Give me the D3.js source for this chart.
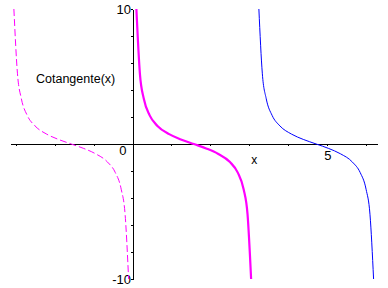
<!DOCTYPE html>
<html>
<head>
<meta charset="utf-8">
<script src="https://cdn.jsdelivr.net/npm/d3@7"></script>
<style>
  body { margin: 0; background: #fff; }
  text { font-family: "Liberation Sans", Arial, sans-serif; fill: #000; }
</style>
</head>
<body>
<div id="chart"></div>
<script>
// values, one array per branch
const leftX  = [-3.042, -2.95, -2.85, -2.7, -2.5, -2.2, -1.9, -1.571, -1.25, -0.95, -0.64, -0.44, -0.29, -0.19, -0.0997];
const midX   = [0.0997, 0.19, 0.29, 0.44, 0.64, 0.94, 1.24, 1.571, 1.89, 2.19, 2.5, 2.7, 2.85, 2.95, 3.042];
const rightX = [3.241, 3.33, 3.43, 3.58, 3.78, 4.08, 4.38, 4.712, 5.03, 5.33, 5.64, 5.84, 5.99, 6.09, 6.183];
const cotY   = [10, 5.2, 3.35, 2.12, 1.34, 0.73, 0.34, 0, -0.33, -0.72, -1.34, -2.12, -3.35, -5.2, -10];

const xTicks = [-3, -2, -1, 0, 1, 2, 3, 4, 5, 6];
const yTicks = [-10, -8, -6, -4, -2, 0, 2, 4, 6, 8, 10];
const xLabels = [5];
const yLabels = [-10, 10];

const width = 388, height = 288;

const svg = d3.select('#chart').append('svg')
  .attr('width', width)
  .attr('height', height);

const x = d3.scaleLinear().domain([-Math.PI, 2 * Math.PI]).range([10, 377.5]);
const y = d3.scaleLinear().domain([-10, 10]).range([279, 9]);

// axes cross at the origin
const xAxis = d3.axisBottom(x)
  .tickValues(xTicks)
  .tickSize(2)
  .tickSizeOuter(0)
  .tickPadding(5)
  .tickFormat(d => xLabels.includes(d) ? d : '');

const yAxis = d3.axisLeft(y)
  .tickValues(yTicks)
  .tickSize(2)
  .tickSizeOuter(0)
  .tickPadding(0)
  .tickFormat(d => yLabels.includes(d) ? d : '');

const gx = svg.append('g')
  .attr('transform', 'translate(0,' + Math.round(y(0)) + ')')
  .call(xAxis);
const gy = svg.append('g')
  .attr('transform', 'translate(' + Math.round(x(0)) + ',0)')
  .call(yAxis);

[gx, gy].forEach(g => {
  g.selectAll('path, line').attr('stroke', '#000').attr('shape-rendering', 'crispEdges');
  g.selectAll('text').attr('font-size', 13).attr('font-family', '"Liberation Sans", Arial, sans-serif').attr('fill', '#000');
});
gy.selectAll('text').attr('dy', '0.36em');

// origin label
svg.append('text')
  .attr('x', x(0) - 6)
  .attr('y', y(0) + 11)
  .attr('text-anchor', 'end')
  .attr('font-size', 13)
  .text('0');

svg.append('text')
  .attr('x', x(3.12))
  .attr('y', y(-1.5))
  .attr('text-anchor', 'middle')
  .attr('font-size', 12)
  .text('x');

svg.append('text')
  .attr('x', 36)
  .attr('y', 83)
  .attr('font-size', 12.5)
  .text('Cotangente(x)');

const line = d3.line()
  .x(d => x(d[0]))
  .y(d => y(d[1]))
  .curve(d3.curveMonotoneX);

const branches = [
  { xs: leftX,  color: '#ff00ff', w: 1, dash: '7,3' },
  { xs: midX,   color: '#ff00ff', w: 2.2, dash: null },
  { xs: rightX, color: '#0000ff', w: 1, dash: null }
];

branches.forEach(b => {
  svg.append('path')
    .datum(b.xs.map((v, i) => [v, cotY[i]]))
    .attr('fill', 'none')
    .attr('stroke', b.color)
    .attr('stroke-width', b.w)
    .attr('stroke-dasharray', b.dash)
    .attr('d', line);
});
</script>
</body>
</html>
